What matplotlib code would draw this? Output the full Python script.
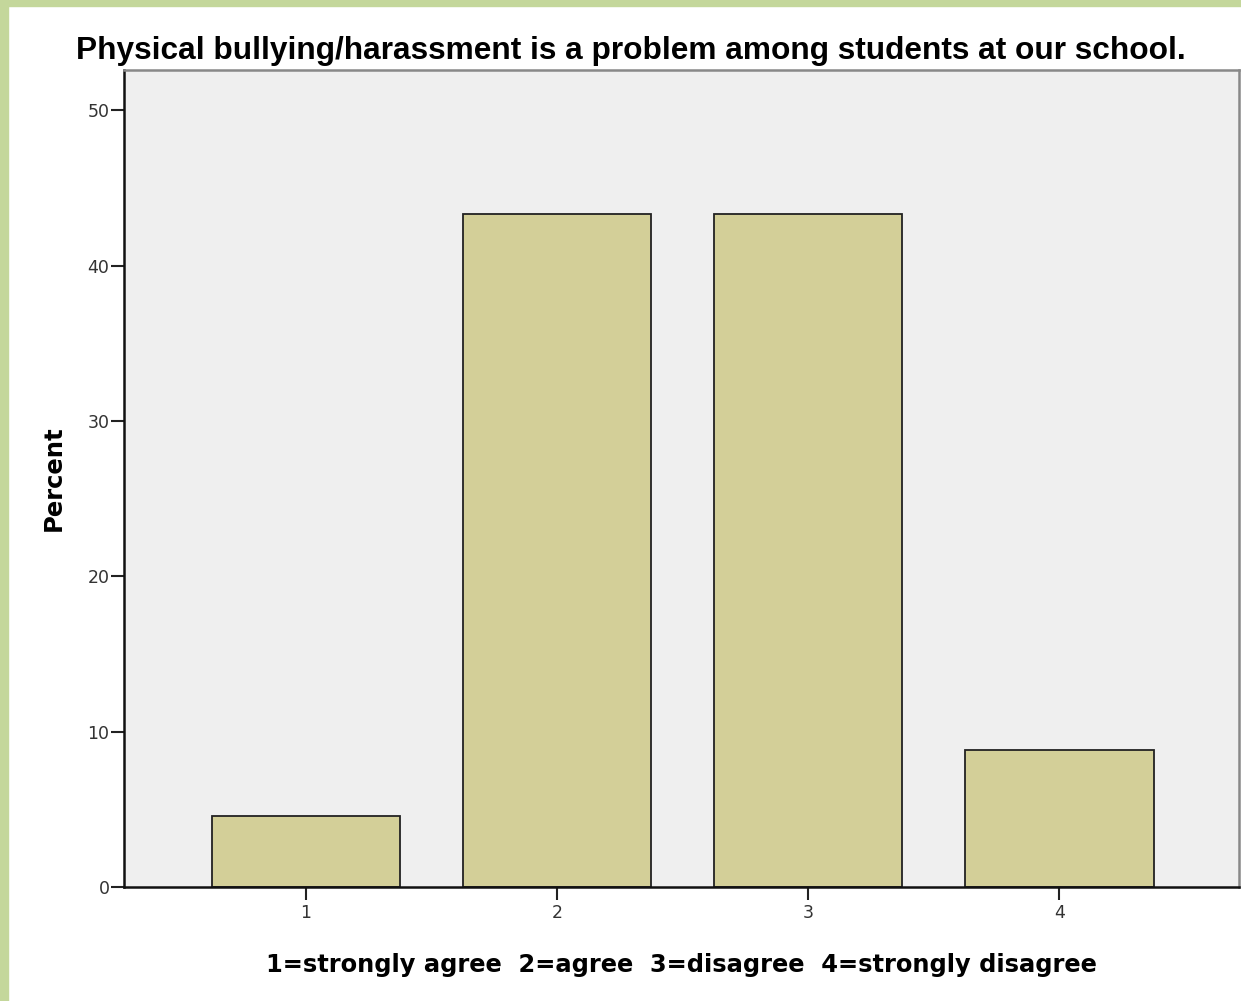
import matplotlib
matplotlib.use("Agg")
import matplotlib.pyplot as plt
from matplotlib.patches import Rectangle

# responses: 1=strongly agree 2=agree 3=disagree 4=strongly disagree
categories = [1, 2, 3, 4]
tick_labels = ["1", "2", "3", "4"]
percent = [4.6, 43.3, 43.3, 8.8]
yticks = [0, 10, 20, 30, 40, 50]

fig = plt.figure(figsize=(12.41, 10.01), dpi=100)
fig.patch.set_facecolor("white")

# light green frame on top and left edge
border = "#c4d79b"
fig.patches.append(Rectangle((0, 1 - 6 / 1001), 1, 6 / 1001, transform=fig.transFigure,
                             color=border, zorder=0))
fig.patches.append(Rectangle((0, 0), 8 / 1241, 1, transform=fig.transFigure,
                             color=border, zorder=0))

ax = fig.add_axes([124 / 1241, 114 / 1001, 1115 / 1241, 817 / 1001])
ax.set_facecolor("#efefef")

ax.bar(categories, percent, width=0.75, color="#d3cf98", edgecolor="#222222",
       linewidth=1.3, zorder=2)

ax.set_xlim(0.275, 4.715)
ax.set_ylim(0, 52.6)
ax.set_xticks(categories)
ax.set_xticklabels(tick_labels)
ax.set_yticks(yticks)

ax.tick_params(axis="y", direction="out", length=9.4, width=1.5, color="#222222",
               labelsize=12.5, labelcolor="#333333", pad=1)
ax.tick_params(axis="x", direction="out", length=9.4, width=1.5, color="#222222",
               labelsize=12.5, labelcolor="#333333", pad=3)

for side in ["left", "bottom"]:
    ax.spines[side].set_color("#111111")
    ax.spines[side].set_linewidth(1.8)
for side in ["top", "right"]:
    ax.spines[side].set_color("#888888")
    ax.spines[side].set_linewidth(1.8)

fig.text(0.508, 0.949, "Physical bullying/harassment is a problem among students at our school.",
         ha="center", va="center", fontsize=22.8, fontweight="bold", family="Liberation Sans")
ax.set_xlabel("1=strongly agree  2=agree  3=disagree  4=strongly disagree",
              fontsize=17.4, fontweight="bold", labelpad=22)
ax.set_ylabel("Percent", fontsize=17.5, fontweight="bold", labelpad=16)

fig.savefig("out.png", dpi=100)
